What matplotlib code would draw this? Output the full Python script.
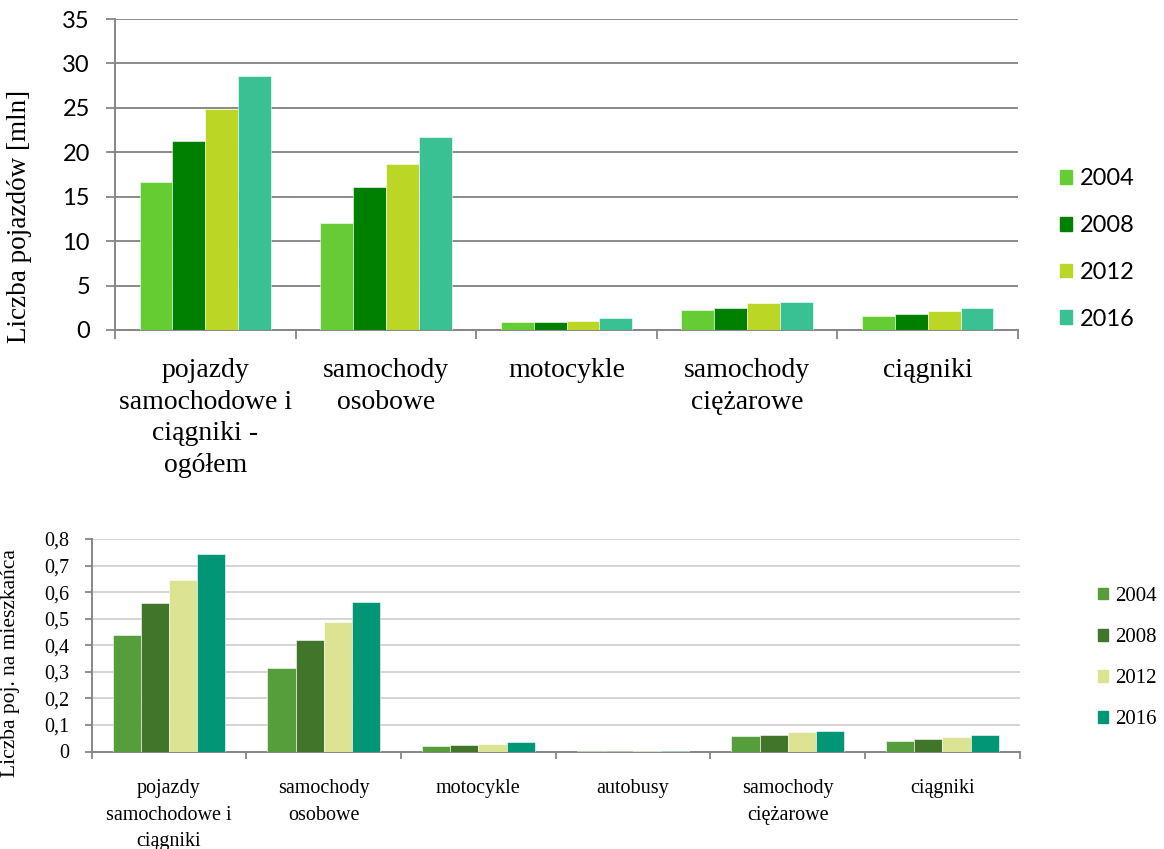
import matplotlib
matplotlib.use('Agg')
import matplotlib.pyplot as plt
import numpy as np
from matplotlib.patches import Patch

# ---- dane
years = ['2004', '2008', '2012', '2016']

kat_top = ['pojazdy\nsamochodowe i\nciągniki -\nogółem', 'samochody\nosobowe', 'motocykle',
           'samochody\nciężarowe', 'ciągniki']
top_2004 = [16.7, 12.0, 0.85, 2.3, 1.6]
top_2008 = [21.3, 16.1, 0.9, 2.5, 1.8]
top_2012 = [24.9, 18.7, 1.05, 3.0, 2.1]
top_2016 = [28.6, 21.7, 1.35, 3.2, 2.45]

kat_bot = ['pojazdy\nsamochodowe i\nciągniki', 'samochody\nosobowe', 'motocykle', 'autobusy',
           'samochody\nciężarowe', 'ciągniki']
bot_2004 = [0.437, 0.313, 0.022, 0.002, 0.058, 0.039]
bot_2008 = [0.558, 0.421, 0.025, 0.002, 0.064, 0.047]
bot_2012 = [0.645, 0.486, 0.030, 0.002, 0.073, 0.054]
bot_2016 = [0.743, 0.563, 0.037, 0.002, 0.079, 0.063]

col_top = ['#66CC33', '#008000', '#BBD624', '#3AC193']
col_bot = ['#559E3B', '#41752A', '#DCE393', '#029677']

serif = 'Liberation Serif'
sans = 'Lato'

fig = plt.figure(figsize=(11.64, 8.49), dpi=100)


def draw(ax, cats, series, colors, gridcol, ymax, ystep, tickfont, tickfs, fmt, catfs, catpad, ls, ticklen):
    x = np.arange(len(cats))
    bw = 0.182
    for i, (vals, c) in enumerate(zip(series, colors)):
        ax.bar(x + (i - 1.5) * bw, vals, bw, color=c, edgecolor='white', linewidth=0.4, zorder=3)
    ax.set_xlim(-0.5, len(cats) - 0.5)
    ax.set_ylim(0, ymax)
    yt = np.arange(0, ymax + ystep / 2, ystep)
    ax.set_yticks(yt)
    ax.set_yticklabels([fmt(v) for v in yt], fontfamily=tickfont, fontsize=tickfs)
    ax.yaxis.grid(True, color=gridcol, linewidth=1.4, zorder=0)
    ax.set_xticks(np.arange(len(cats) + 1) - 0.5)
    ax.set_xticklabels([])
    ax.set_xticks(x, minor=True)
    ax.set_xticklabels(cats, minor=True, fontfamily=serif, fontsize=catfs, linespacing=ls, va='top')
    ax.tick_params(axis='x', which='minor', length=0, pad=catpad)
    ax.tick_params(axis='x', which='major', length=ticklen, color='#868686', width=1.3)
    ax.tick_params(axis='y', length=ticklen, color='#868686', width=1.3, pad=11.5)
    for s in ['top', 'right']:
        ax.spines[s].set_visible(False)
    for s in ['left', 'bottom']:
        ax.spines[s].set_color('#868686')
        ax.spines[s].set_linewidth(1.4)


# ---- wykres górny
ax1 = fig.add_axes([115 / 1164, 1 - 330 / 849, 903 / 1164, 311 / 849])
draw(ax1, kat_top, [top_2004, top_2008, top_2012, top_2016], col_top, '#8A8A8A',
     35, 5, sans, 17, lambda v: f'{int(v)}', 20, 20, 1.36, 6.5)
fig.text(20 / 1164, 1 - 216 / 849, 'Liczba pojazdów [mln]', rotation=90, ha='center', va='center',
         fontfamily=serif, fontsize=19.5)
h1 = [Patch(color=c) for c in col_top]
fig.legend(h1, years, loc='center left', bbox_to_anchor=(1060 / 1164, 1 - 249 / 849), frameon=False,
           prop={'family': sans, 'size': 17}, handlelength=0.51, handleheight=0.51, handletextpad=0.34,
           labelspacing=1.09, borderpad=0, borderaxespad=0)

# ---- wykres dolny
ax2 = fig.add_axes([91.7 / 1164, 1 - 751.5 / 849, 928 / 1164, 212.5 / 849])
draw(ax2, kat_bot, [bot_2004, bot_2008, bot_2012, bot_2016], col_bot, '#D4D4D4',
     0.8, 0.1, serif, 14.5, lambda v: '0' if v == 0 else f'{v:.1f}'.replace('.', ','), 14.5, 20, 1.52, 4.8)
fig.text(11 / 1164, 1 - 663 / 849, 'Liczba poj. na mieszkańca', rotation=90, ha='center', va='center',
         fontfamily=serif, fontsize=15.5)
h2 = [Patch(color=c) for c in col_bot]
fig.legend(h2, years, loc='center left', bbox_to_anchor=(1098 / 1164, 1 - 658 / 849), frameon=False,
           prop={'family': serif, 'size': 15}, handlelength=0.5, handleheight=0.5, handletextpad=0.3,
           labelspacing=1.06, borderpad=0, borderaxespad=0)

plt.savefig('out.png', dpi=100)
